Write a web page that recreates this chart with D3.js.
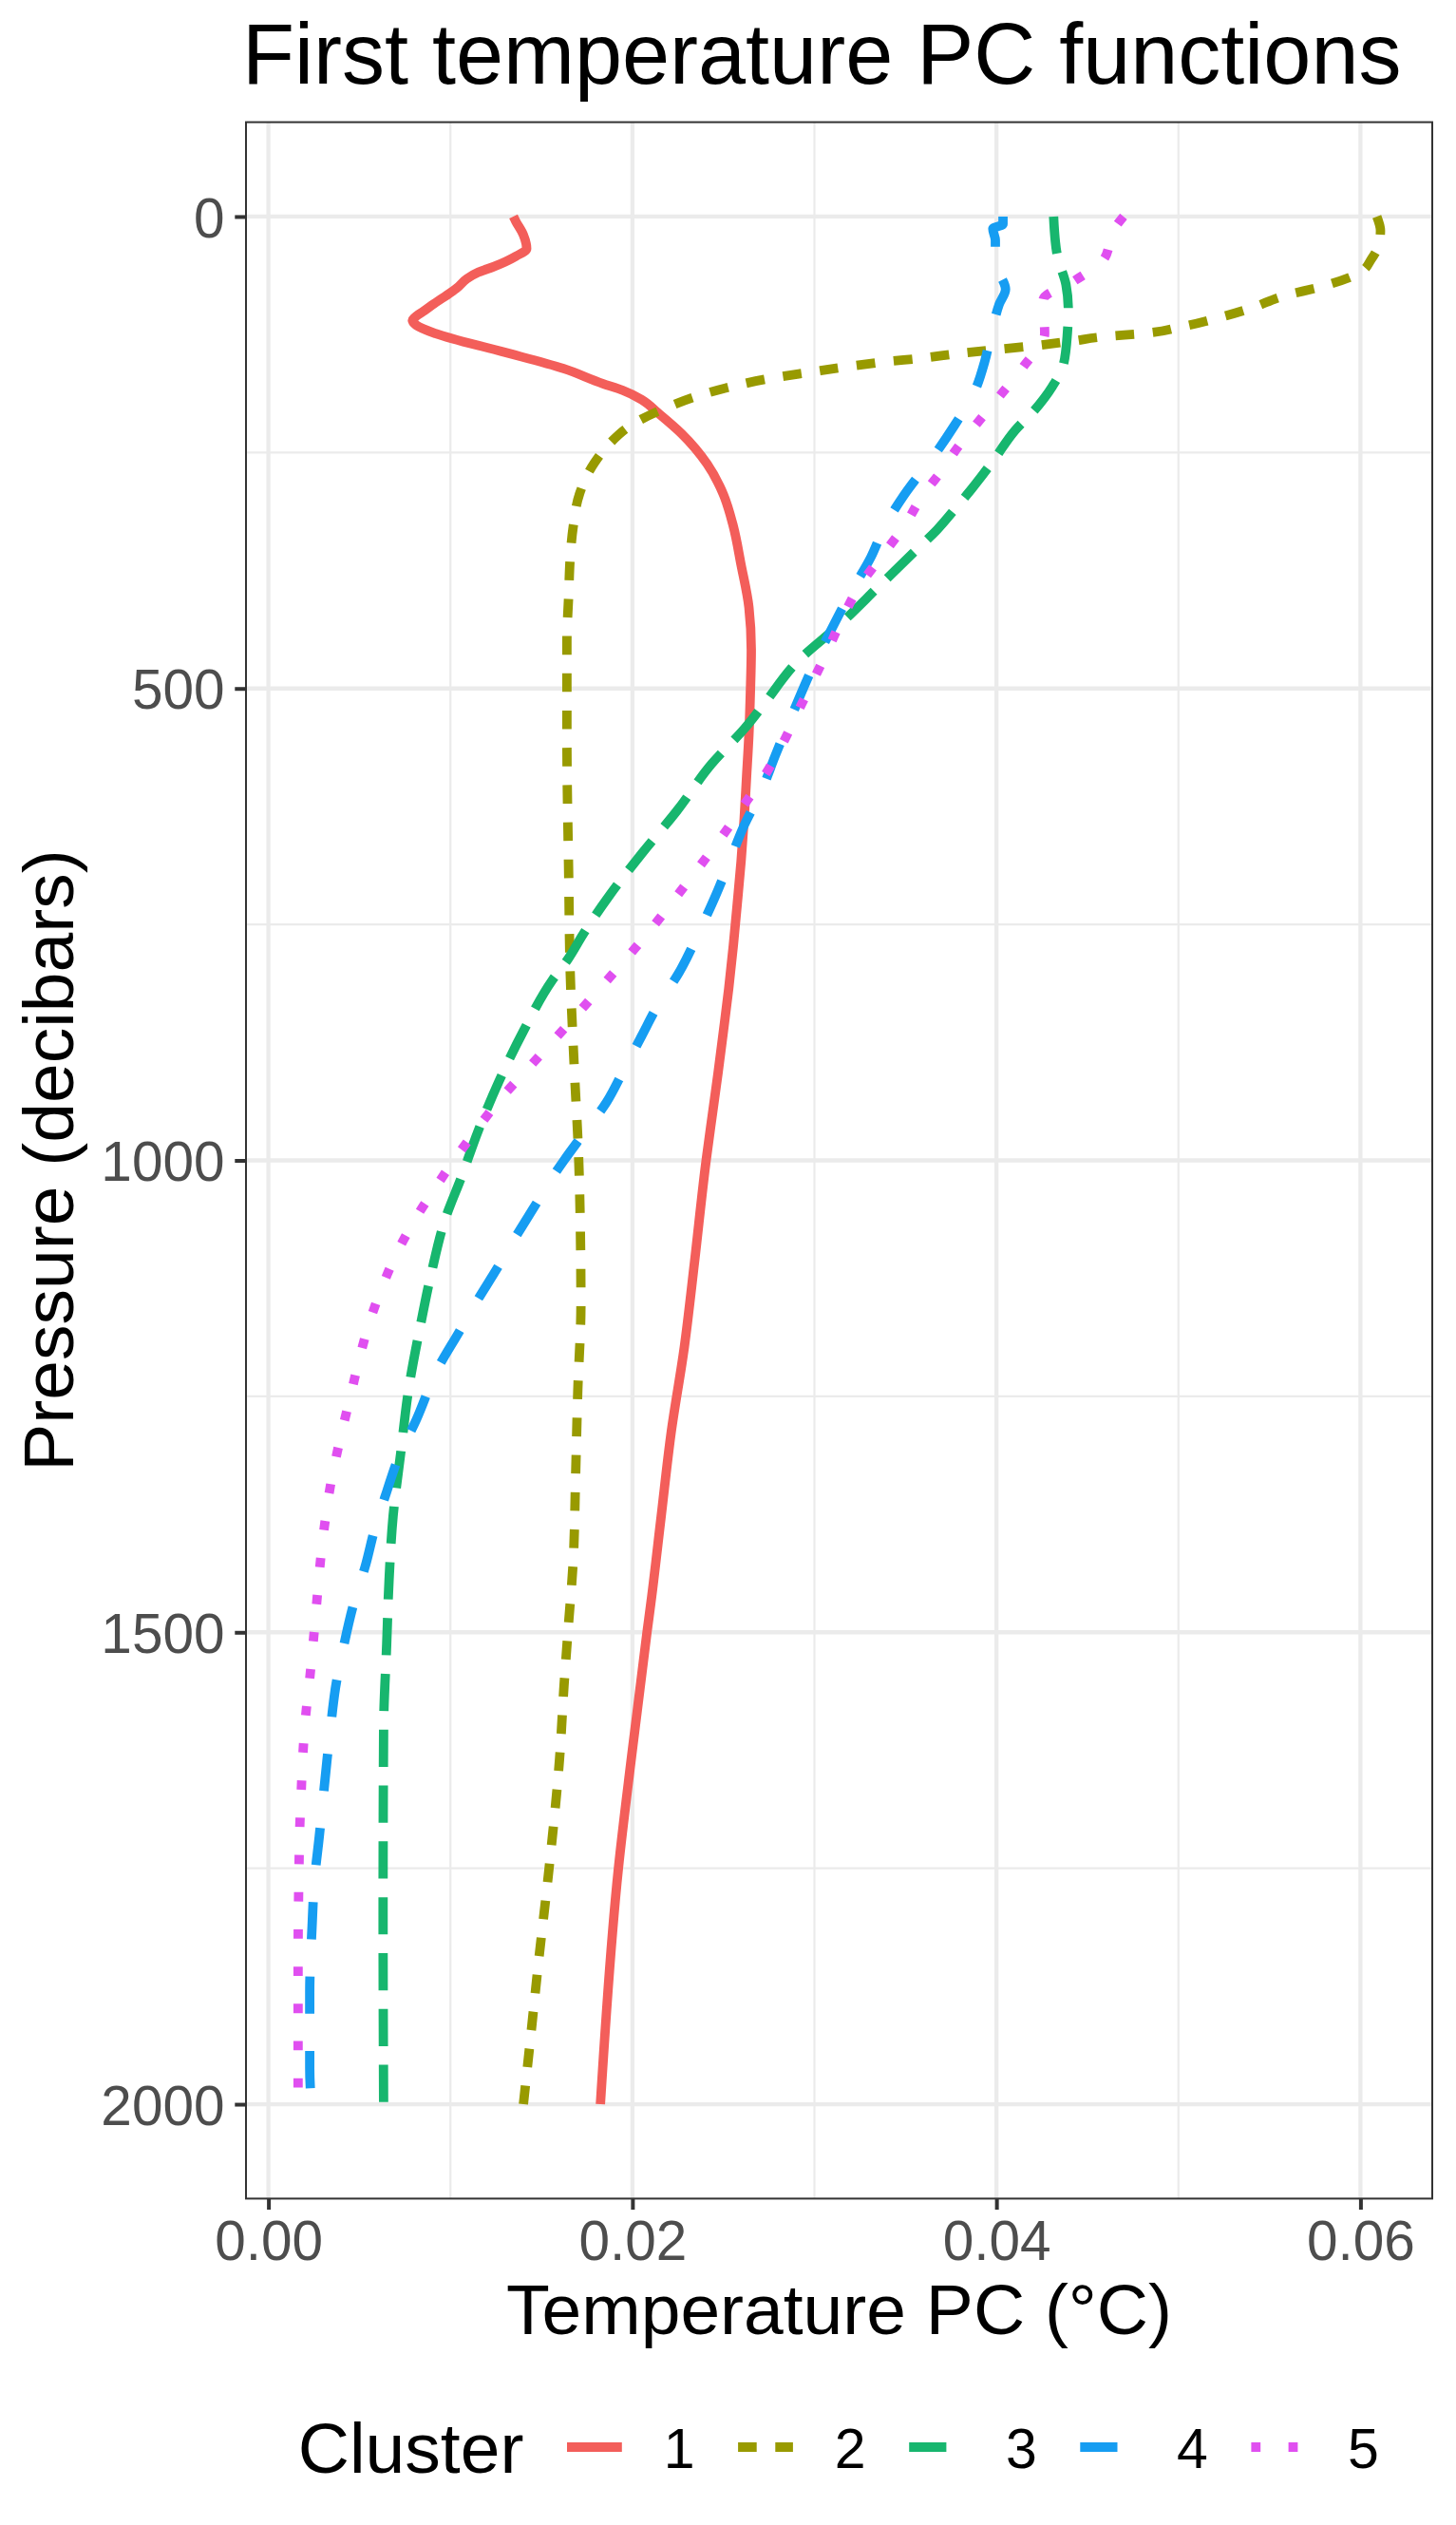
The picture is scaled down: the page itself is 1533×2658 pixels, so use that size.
<!DOCTYPE html>
<html>
<head>
<meta charset="utf-8">
<script src="https://cdn.jsdelivr.net/npm/d3@7"></script>
<style>
  html, body { margin: 0; padding: 0; background: #ffffff; }
  svg { display: block; }
  text { font-family: "Liberation Sans", Arial, Helvetica, sans-serif; }
</style>
</head>
<body>
<div id="chart"></div>
<script>
// ---------------- data ----------------
const categories = ["1", "2", "3", "4", "5"];
const xTicks = [0, 0.02, 0.04, 0.06];
const xTickLabels = ["0.00", "0.02", "0.04", "0.06"];
const xMinorTicks = [0.01, 0.03, 0.05];
const yTicks = [0, 500, 1000, 1500, 2000];
const yTickLabels = ["0", "500", "1000", "1500", "2000"];
const yMinorTicks = [250, 750, 1250, 1750];

const cluster1Pressure = [0, 5, 19, 34, 42, 53, 59, 66, 76, 80, 94, 100, 107, 110, 115, 124, 143, 161, 177, 184, 194, 208, 230, 262, 294, 328, 369, 414, 459, 504, 549, 594, 638, 683, 728, 773, 818, 863, 908, 953, 1000, 1108, 1198, 1288, 1377, 1468, 1500, 1632, 1750, 2000];
const cluster1Temp = [0.01346, 0.01359, 0.0140, 0.01419, 0.0136, 0.01239, 0.01154, 0.0109, 0.01034, 0.01005, 0.00898, 0.00855, 0.00804, 0.00791, 0.00812, 0.00919, 0.01282, 0.0162, 0.01837, 0.01945, 0.02051, 0.0214, 0.0227, 0.0241, 0.02499, 0.02554, 0.02597, 0.0264, 0.02653, 0.02648, 0.0264, 0.02627, 0.02614, 0.02597, 0.02576, 0.02554, 0.02529, 0.025, 0.0247, 0.02438, 0.02405, 0.02341, 0.02285, 0.02213, 0.02158, 0.02102, 0.0208, 0.01995, 0.01923, 0.01824];

const cluster2Pressure = [0, 15, 30, 45, 59, 74, 84, 97, 108, 117, 124, 127, 132, 137, 141, 145, 150, 154, 159, 165, 171, 179, 189, 203, 219, 241, 261, 294, 328, 362, 400, 450, 550, 700, 800, 900, 1000, 1063, 1153, 1243, 1333, 1423, 1501, 1557, 1633, 1750, 1851, 1930, 2000];
const cluster2Temp = [0.0609, 0.0611, 0.0610, 0.0606, 0.0600, 0.0579, 0.0558, 0.054, 0.05206, 0.05012, 0.04802, 0.04607, 0.04412, 0.04203, 0.03993, 0.03798, 0.03589, 0.03388, 0.03184, 0.02975, 0.02771, 0.0257, 0.02376, 0.02181, 0.0201, 0.01872, 0.01791, 0.01709, 0.01675, 0.01658, 0.0165, 0.0164, 0.0164, 0.0165, 0.01658, 0.0168, 0.01705, 0.01713, 0.01717, 0.0170, 0.01688, 0.01675, 0.01645, 0.01624, 0.0160, 0.01542, 0.01483, 0.0144, 0.01401];

const cluster3Pressure = [0, 42, 72, 99, 123, 157, 180, 206, 226, 258, 288, 308, 332, 352, 392, 432, 472, 517, 540, 580, 630, 675, 720, 760, 787, 809, 863, 917, 970, 1018, 1063, 1117, 1176, 1243, 1310, 1377, 1444, 1512, 1602, 1800, 2000];
const cluster3Temp = [0.04314, 0.04335, 0.04382, 0.04395, 0.0439, 0.04368, 0.04307, 0.04205, 0.04105, 0.03985, 0.03866, 0.0378, 0.03673, 0.03566, 0.03353, 0.0314, 0.02904, 0.02721, 0.02627, 0.02435, 0.02243, 0.02051, 0.01871, 0.0173, 0.01645, 0.0156, 0.01401, 0.01265, 0.0115, 0.0106, 0.0097, 0.00898, 0.00834, 0.0077, 0.00727, 0.00685, 0.00663, 0.0065, 0.00633, 0.0063, 0.00633];

const cluster4Pressure = [0, 8, 13, 25, 39, 46, 62, 77, 93, 107, 125, 154, 184, 222, 252, 295, 328, 361, 397, 428, 469, 535, 571, 607, 645, 679, 720, 751, 801, 837, 868, 904, 938, 972, 1000, 1018, 1045, 1085, 1113, 1153, 1182, 1220, 1275, 1315, 1351, 1392, 1428, 1468, 1517, 1557, 1598, 1637, 1677, 1717, 1763, 1811, 1882, 1962, 2000];
const cluster4Temp = [0.04036, 0.04036, 0.0398, 0.03994, 0.03994, 0.03972, 0.0402, 0.0405, 0.04015, 0.03993, 0.0397, 0.03935, 0.03883, 0.03767, 0.03662, 0.03493, 0.03387, 0.0331, 0.03203, 0.03118, 0.03011, 0.02862, 0.02785, 0.02712, 0.02614, 0.02542, 0.02456, 0.02383, 0.02256, 0.02136, 0.02051, 0.01953, 0.01859, 0.0173, 0.01624, 0.0156, 0.01474, 0.01346, 0.01261, 0.01133, 0.01047, 0.00932, 0.00812, 0.00714, 0.0065, 0.00582, 0.00535, 0.00471, 0.00411, 0.0037, 0.00343, 0.00321, 0.0030, 0.00279, 0.00253, 0.0024, 0.00227, 0.00227, 0.00236];

const cluster5Pressure = [0, 13, 45, 68, 88, 124, 158, 189, 218, 250, 265, 295, 329, 361, 392, 428, 464, 498, 523, 556, 590, 623, 655, 686, 718, 750, 789, 818, 848, 877, 906, 935, 967, 998, 1031, 1063, 1098, 1134, 1171, 1209, 1247, 1302, 1342, 1380, 1420, 1458, 1496, 1549, 1590, 1631, 1670, 1708, 1750, 1850, 2000];
const cluster5Temp = [0.04698, 0.04647, 0.04591, 0.04429, 0.04257, 0.04265, 0.04152, 0.04023, 0.03898, 0.03767, 0.03716, 0.03596, 0.0349, 0.03364, 0.03246, 0.03148, 0.03062, 0.02977, 0.02913, 0.02832, 0.02734, 0.02614, 0.02499, 0.02379, 0.02252, 0.02123, 0.01953, 0.0182, 0.01683, 0.01547, 0.0141, 0.01274, 0.01145, 0.01026, 0.0091, 0.00804, 0.00706, 0.00625, 0.00556, 0.00501, 0.00454, 0.00386, 0.00343, 0.00313, 0.00288, 0.0027, 0.00253, 0.00227, 0.00204, 0.00189, 0.0018, 0.00172, 0.00168, 0.00163, 0.00163];

// ---------------- styles / layout ----------------
const W = 1533, H = 2658;
const panel = { left: 259, right: 1508, top: 128.6, bottom: 2314.4 };
const colors = ["#F35E5A", "#989A00", "#17B66E", "#169DF2", "#E04FF0"];
const LW = 9.8;
const dashes = [null, [2, 2], [4, 2], [4, 4], [1, 3]].map(d => d ? d.map(v => v * LW).join(" ") : null);
const font = "'Liberation Sans', Arial, Helvetica, sans-serif";

const series = [
  { name: categories[0], p: cluster1Pressure, t: cluster1Temp },
  { name: categories[1], p: cluster2Pressure, t: cluster2Temp },
  { name: categories[2], p: cluster3Pressure, t: cluster3Temp },
  { name: categories[3], p: cluster4Pressure, t: cluster4Temp },
  { name: categories[4], p: cluster5Pressure, t: cluster5Temp }
].map(s => ({ name: s.name, values: s.p.map((pp, i) => ({ p: pp, t: s.t[i] })) }));

const x = d3.scaleLinear().domain([-0.001232, 0.063945]).range([panel.left, panel.right]);
const y = d3.scaleLinear().domain([-100, 2100]).range([panel.top, panel.bottom]);

const svg = d3.select("#chart").append("svg")
  .attr("width", W).attr("height", H)
  .attr("viewBox", `0 0 ${W} ${H}`);

svg.append("rect").attr("width", W).attr("height", H).attr("fill", "#ffffff");

const pw = panel.right - panel.left, ph = panel.bottom - panel.top;

// grid
const grid = svg.append("g");
grid.selectAll(".xminor").data(xMinorTicks).enter().append("line")
  .attr("x1", d => x(d)).attr("x2", d => x(d))
  .attr("y1", panel.top).attr("y2", panel.bottom)
  .attr("stroke", "#EBEBEB").attr("stroke-width", 2.2);
grid.selectAll(".yminor").data(yMinorTicks).enter().append("line")
  .attr("y1", d => y(d)).attr("y2", d => y(d))
  .attr("x1", panel.left).attr("x2", panel.right)
  .attr("stroke", "#EBEBEB").attr("stroke-width", 2.2);
grid.selectAll(".xmajor").data(xTicks).enter().append("line")
  .attr("x1", d => x(d)).attr("x2", d => x(d))
  .attr("y1", panel.top).attr("y2", panel.bottom)
  .attr("stroke", "#EBEBEB").attr("stroke-width", 4.3);
grid.selectAll(".ymajor").data(yTicks).enter().append("line")
  .attr("y1", d => y(d)).attr("y2", d => y(d))
  .attr("x1", panel.left).attr("x2", panel.right)
  .attr("stroke", "#EBEBEB").attr("stroke-width", 4.3);

// lines
svg.append("clipPath").attr("id", "clip").append("rect")
  .attr("x", panel.left).attr("y", panel.top).attr("width", pw).attr("height", ph);

const line = d3.line()
  .x(d => x(d.t))
  .y(d => y(d.p))
  .curve(d3.curveMonotoneY);

svg.append("g").attr("clip-path", "url(#clip)")
  .selectAll("path").data(series).enter().append("path")
  .attr("d", d => line(d.values))
  .attr("fill", "none")
  .attr("stroke", (d, i) => colors[i])
  .attr("stroke-width", LW)
  .attr("stroke-linecap", "butt")
  .attr("stroke-linejoin", "round")
  .attr("stroke-dasharray", (d, i) => dashes[i]);

// panel border
svg.append("rect")
  .attr("x", panel.left).attr("y", panel.top).attr("width", pw).attr("height", ph)
  .attr("fill", "none").attr("stroke", "#333333").attr("stroke-width", 2);

// axes (ticks + labels)
const xAxis = d3.axisBottom(x).tickValues(xTicks)
  .tickFormat((d, i) => xTickLabels[i]).tickSize(11.7).tickPadding(0);
const gx = svg.append("g").attr("transform", `translate(0,${panel.bottom})`).call(xAxis);
gx.select(".domain").remove();
gx.selectAll(".tick line").attr("stroke", "#333333").attr("stroke-width", 4);
gx.selectAll(".tick text").attr("fill", "#4D4D4D").attr("font-size", 58.5)
  .attr("font-family", font).attr("dy", null).attr("y", 2379.3 - panel.bottom);

const yAxis = d3.axisLeft(y).tickValues(yTicks)
  .tickFormat((d, i) => yTickLabels[i]).tickSize(11.7).tickPadding(0);
const gy = svg.append("g").attr("transform", `translate(${panel.left},0)`).call(yAxis);
gy.select(".domain").remove();
gy.selectAll(".tick line").attr("stroke", "#333333").attr("stroke-width", 4);
gy.selectAll(".tick text").attr("fill", "#4D4D4D").attr("font-size", 58.5)
  .attr("font-family", font).attr("x", 236.5 - panel.left).attr("dy", "0.36em");

// title
svg.append("text").attr("x", 255).attr("y", 87.7)
  .attr("font-size", 90).attr("fill", "#000").attr("font-family", font)
  .text("First temperature PC functions");

// axis titles
svg.append("text").attr("x", (panel.left + panel.right) / 2).attr("y", 2457)
  .attr("text-anchor", "middle").attr("font-size", 75).attr("fill", "#000").attr("font-family", font)
  .text("Temperature PC (°C)");
svg.append("text")
  .attr("transform", `translate(76.7,${(panel.top + panel.bottom) / 2}) rotate(-90)`)
  .attr("text-anchor", "middle").attr("font-size", 75).attr("fill", "#000").attr("font-family", font)
  .text("Pressure (decibars)");

// legend
const legend = svg.append("g");
legend.append("text").attr("x", 313.8).attr("y", 2603)
  .attr("font-size", 75).attr("fill", "#000").attr("font-family", font).text("Cluster");
const keyX0 = 597, keyStep = 180.1, keyLen = 57.8, keyY = 2576;
const items = legend.selectAll(".item").data(series).enter().append("g")
  .attr("transform", (d, i) => `translate(${keyX0 + i * keyStep},0)`);
items.append("line")
  .attr("x1", 0).attr("x2", keyLen).attr("y1", keyY).attr("y2", keyY)
  .attr("stroke", (d, i) => colors[i]).attr("stroke-width", LW)
  .attr("stroke-dasharray", (d, i) => dashes[i]);
items.append("text").attr("x", 101.7).attr("y", 2598)
  .attr("font-size", 59).attr("fill", "#000").attr("font-family", font)
  .text(d => d.name);
</script>
</body>
</html>
